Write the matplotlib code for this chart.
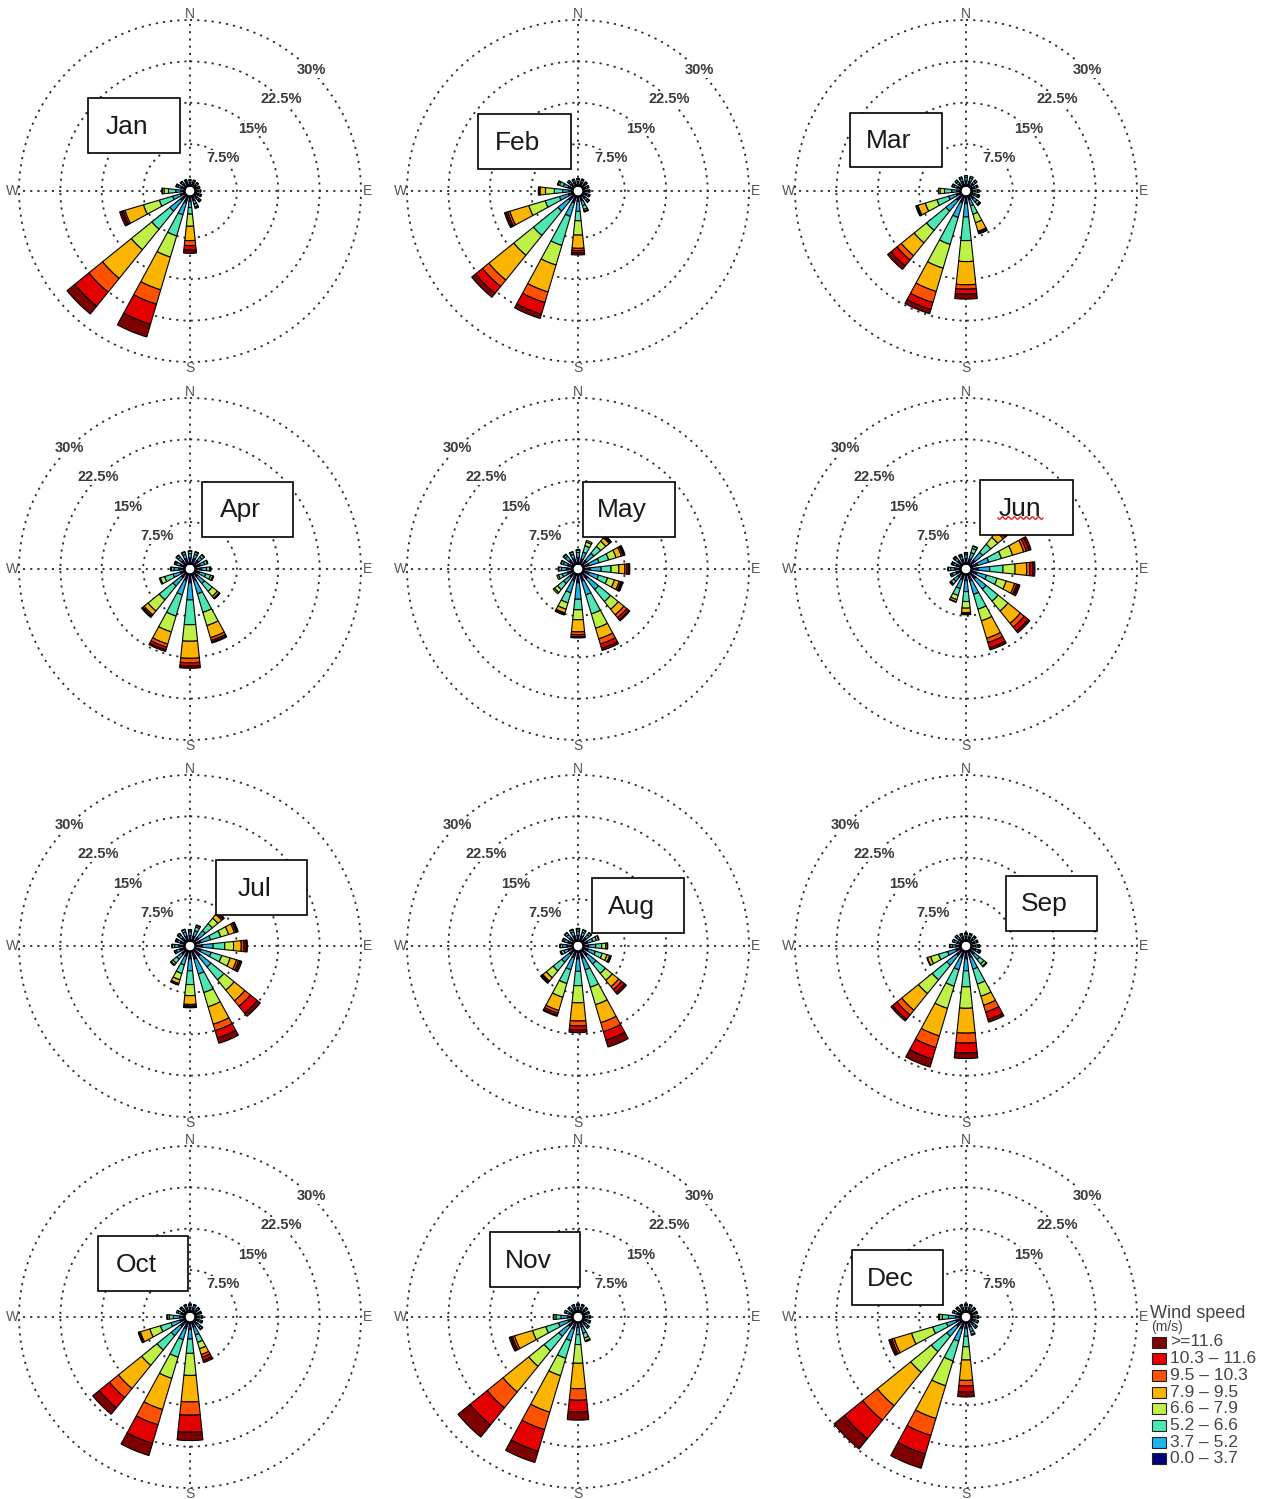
import numpy as np
import matplotlib
matplotlib.use("Agg")
import matplotlib.pyplot as plt
from matplotlib.patches import Rectangle
from matplotlib.lines import Line2D

plt.rcParams['font.family'] = ['Liberation Sans', 'DejaVu Sans']

# ---------------- data ----------------
MONTHS = ['Jan', 'Feb', 'Mar', 'Apr', 'May', 'Jun',
          'Jul', 'Aug', 'Sep', 'Oct', 'Nov', 'Dec']
DIRECTIONS_DEG = [0, 22.5, 45, 67.5, 90, 112.5, 135, 157.5,
                  180, 202.5, 225, 247.5, 270, 292.5, 315, 337.5]
SPEED_BINS = ['0.0 \u2013 3.7', '3.7 \u2013 5.2', '5.2 \u2013 6.6', '6.6 \u2013 7.9',
              '7.9 \u2013 9.5', '9.5 \u2013 10.3', '10.3 \u2013 11.6', '>=11.6']
RING_VALUES = [7.5, 15, 22.5, 30]
RING_LABELS = ['7.5%', '15%', '22.5%', '30%']
COMPASS = ['N', 'E', 'S', 'W']
COMPASS_DEG = [0, 90, 180, 270]

# frequency (%) per direction (rows N..NNW) and speed bin (cols low..high)
JAN = [
    [0.6, 0.4, 0.1, 0, 0, 0, 0, 0],
    [0.6, 0.4, 0.1, 0, 0, 0, 0, 0],
    [0.5, 0.4, 0.1, 0, 0, 0, 0, 0],
    [0.5, 0.3, 0.1, 0, 0, 0, 0, 0],
    [0.5, 0.4, 0.1, 0, 0, 0, 0, 0],
    [0.6, 0.4, 0.2, 0, 0, 0, 0, 0],
    [0.7, 0.5, 0.3, 0.1, 0, 0, 0, 0],
    [0.8, 0.7, 0.5, 0.2, 0.1, 0, 0, 0],
    [0.8, 1.2, 1.2, 2.2, 2.6, 0.9, 0.8, 0.6],
    [1.2, 2.3, 4.0, 4.0, 6.2, 2.7, 3.8, 2.4],
    [1.2, 2.5, 4.2, 4.8, 6.7, 3.2, 3.3, 1.8],
    [0.8, 1.5, 2.5, 3.0, 3.5, 0.3, 0.3, 0.4],
    [0.6, 1.0, 1.3, 0.8, 0.3, 0, 0, 0.1],
    [0.7, 0.6, 0.3, 0.1, 0, 0, 0, 0],
    [0.6, 0.5, 0.2, 0, 0, 0, 0, 0],
    [0.6, 0.4, 0.2, 0, 0, 0, 0, 0],
]
FEB = [
    [0.6, 0.5, 0.2, 0, 0, 0, 0, 0],
    [0.6, 0.5, 0.2, 0, 0, 0, 0, 0],
    [0.6, 0.4, 0.2, 0, 0, 0, 0, 0],
    [0.5, 0.4, 0.2, 0, 0, 0, 0, 0],
    [0.6, 0.4, 0.2, 0, 0, 0, 0, 0],
    [0.6, 0.5, 0.2, 0, 0, 0, 0, 0],
    [0.7, 0.6, 0.3, 0.1, 0, 0, 0, 0],
    [0.9, 0.9, 0.7, 0.3, 0.2, 0, 0, 0],
    [0.8, 1.9, 1.7, 2.6, 2.4, 0.4, 0.4, 0.4],
    [1.2, 2.6, 5.5, 3.7, 5.1, 2.0, 2.2, 0.8],
    [1.2, 2.5, 5.7, 4.6, 5.8, 1.5, 1.6, 0.9],
    [0.8, 1.7, 2.7, 3.1, 3.6, 0.4, 0.3, 0.3],
    [0.6, 1.2, 1.5, 1.6, 1.0, 0.2, 0, 0.1],
    [0.9, 0.9, 0.7, 0.3, 0.1, 0, 0, 0],
    [0.7, 0.5, 0.3, 0, 0, 0, 0, 0],
    [0.6, 0.5, 0.2, 0, 0, 0, 0, 0],
]
MAR = [
    [0.8, 0.7, 0.3, 0, 0, 0, 0, 0],
    [0.8, 0.7, 0.3, 0, 0, 0, 0, 0],
    [0.7, 0.6, 0.3, 0, 0, 0, 0, 0],
    [0.6, 0.5, 0.2, 0, 0, 0, 0, 0],
    [0.6, 0.5, 0.3, 0, 0, 0, 0, 0],
    [0.7, 0.5, 0.3, 0.1, 0, 0, 0, 0],
    [0.8, 0.8, 0.5, 0.2, 0.1, 0, 0, 0],
    [0.6, 1.2, 1.6, 1.6, 1.6, 0.2, 0.2, 0.1],
    [1.2, 2.5, 4.3, 3.8, 4.2, 0.8, 0.9, 0.9],
    [1.2, 2.8, 5.1, 4.5, 4.4, 2.1, 1.3, 0.8],
    [1.2, 2.5, 4.5, 2.9, 3.0, 1.0, 1.4, 0.8],
    [0.8, 1.5, 2.2, 2.2, 1.4, 0.2, 0.1, 0.1],
    [0.6, 1.0, 1.3, 0.8, 0.3, 0, 0, 0],
    [0.7, 0.6, 0.3, 0.1, 0, 0, 0, 0],
    [0.7, 0.6, 0.3, 0, 0, 0, 0, 0],
    [0.8, 0.6, 0.3, 0, 0, 0, 0, 0],
]
APR = [
    [1.0, 0.8, 0.4, 0.1, 0, 0, 0, 0],
    [1.0, 0.8, 0.4, 0.1, 0, 0, 0, 0],
    [1.0, 0.8, 0.5, 0.1, 0, 0, 0, 0],
    [1.0, 0.8, 0.5, 0.1, 0, 0, 0, 0],
    [1.1, 0.9, 0.6, 0.2, 0, 0, 0, 0],
    [0.8, 1.2, 0.9, 0.4, 0.2, 0, 0, 0],
    [0.8, 1.6, 1.8, 1.2, 0.4, 0.1, 0, 0.1],
    [1.2, 2.5, 3.5, 2.5, 2.3, 0.5, 0.3, 0.2],
    [1.5, 3.1, 4.5, 3.0, 3.1, 0.8, 0.6, 0.4],
    [1.2, 2.7, 4.0, 3.0, 2.3, 0.6, 0.5, 0.3],
    [1.0, 2.0, 3.2, 2.6, 0.9, 0.3, 0.2, 0.1],
    [0.8, 1.4, 1.6, 0.8, 0.2, 0, 0, 0],
    [1.0, 0.9, 0.5, 0.1, 0, 0, 0, 0],
    [0.9, 0.7, 0.3, 0.1, 0, 0, 0, 0],
    [1.0, 0.8, 0.4, 0.1, 0, 0, 0, 0],
    [1.0, 0.8, 0.4, 0.1, 0, 0, 0, 0],
]
MAY = [
    [1.1, 0.9, 0.4, 0.1, 0, 0, 0, 0],
    [0.9, 1.3, 1.2, 0.7, 0.3, 0, 0, 0],
    [1.0, 1.7, 1.6, 1.2, 0.8, 0.2, 0.2, 0.1],
    [1.1, 1.9, 1.8, 1.4, 1.0, 0.3, 0.2, 0.2],
    [1.2, 2.0, 1.8, 1.4, 1.1, 0.4, 0.3, 0.2],
    [1.1, 1.8, 1.7, 1.3, 0.9, 0.3, 0.2, 0.2],
    [1.3, 2.5, 2.8, 1.8, 1.3, 0.7, 0.5, 0.2],
    [1.3, 2.6, 3.6, 2.7, 2.0, 1.0, 0.8, 0.4],
    [1.5, 3.0, 1.9, 1.8, 2.2, 0.5, 0.4, 0.2],
    [1.2, 2.3, 1.9, 1.2, 0.7, 0.2, 0.1, 0.1],
    [0.9, 1.5, 1.4, 0.7, 0.3, 0, 0, 0],
    [1.0, 1.0, 0.7, 0.3, 0, 0, 0, 0],
    [1.1, 0.9, 0.5, 0.1, 0, 0, 0, 0],
    [1.0, 0.8, 0.4, 0.1, 0, 0, 0, 0],
    [1.1, 0.9, 0.4, 0.1, 0, 0, 0, 0],
    [1.0, 0.8, 0.4, 0.1, 0, 0, 0, 0],
]
JUN = [
    [0.9, 0.7, 0.3, 0.1, 0, 0, 0, 0],
    [0.9, 1.2, 0.8, 0.4, 0.1, 0, 0, 0],
    [1.1, 1.8, 1.9, 1.6, 1.3, 0.4, 0.3, 0.2],
    [1.2, 2.1, 2.4, 2.1, 2.1, 0.5, 0.5, 0.4],
    [1.2, 2.1, 2.4, 2.2, 2.1, 0.6, 0.5, 0.4],
    [1.1, 1.8, 2.0, 1.7, 1.6, 0.4, 0.3, 0.3],
    [1.3, 2.4, 2.8, 2.3, 2.9, 0.9, 0.9, 0.4],
    [1.3, 2.5, 2.8, 2.2, 3.3, 0.8, 1.0, 0.4],
    [1.1, 2.0, 1.8, 1.2, 0.8, 0.2, 0.1, 0.1],
    [1.0, 1.7, 1.3, 0.8, 0.4, 0.1, 0, 0],
    [0.9, 1.0, 0.6, 0.2, 0.1, 0, 0, 0],
    [0.9, 0.7, 0.3, 0.1, 0, 0, 0, 0],
    [1.0, 0.8, 0.4, 0.1, 0, 0, 0, 0],
    [0.8, 0.6, 0.3, 0.1, 0, 0, 0, 0],
    [0.9, 0.7, 0.3, 0.1, 0, 0, 0, 0],
    [0.8, 0.6, 0.3, 0.1, 0, 0, 0, 0],
]
JUL = [
    [0.9, 0.7, 0.3, 0.1, 0, 0, 0, 0],
    [0.9, 1.0, 0.7, 0.3, 0.1, 0, 0, 0],
    [1.0, 1.6, 1.6, 1.3, 0.9, 0.3, 0.2, 0.1],
    [1.1, 1.8, 1.9, 1.5, 1.1, 0.3, 0.2, 0.2],
    [1.2, 2.0, 2.1, 1.6, 1.4, 0.5, 0.4, 0.2],
    [1.1, 1.9, 2.0, 1.6, 1.2, 0.4, 0.3, 0.3],
    [1.4, 2.5, 3.0, 2.4, 2.5, 1.3, 1.6, 0.7],
    [1.5, 2.8, 3.5, 2.7, 3.3, 1.2, 1.4, 1.0],
    [1.3, 2.2, 2.5, 2.0, 1.6, 0.3, 0.2, 0.1],
    [1.0, 1.6, 1.6, 1.2, 0.7, 0.2, 0.1, 0],
    [0.9, 1.2, 0.9, 0.4, 0.2, 0, 0, 0],
    [0.9, 0.7, 0.3, 0.1, 0, 0, 0, 0],
    [1.0, 0.8, 0.4, 0.1, 0, 0, 0, 0],
    [0.8, 0.6, 0.3, 0.1, 0, 0, 0, 0],
    [0.9, 0.7, 0.3, 0.1, 0, 0, 0, 0],
    [0.9, 0.8, 0.4, 0.1, 0, 0, 0, 0],
]
AUG = [
    [0.9, 0.8, 0.4, 0.1, 0, 0, 0, 0],
    [0.9, 0.7, 0.4, 0.1, 0, 0, 0, 0],
    [0.9, 0.8, 0.4, 0.1, 0, 0, 0, 0],
    [0.8, 1.0, 0.7, 0.4, 0.1, 0, 0, 0],
    [0.9, 1.3, 1.1, 0.7, 0.3, 0.1, 0, 0],
    [0.9, 1.4, 1.3, 0.9, 0.5, 0.2, 0.1, 0],
    [1.2, 2.0, 2.2, 1.6, 1.5, 0.7, 0.7, 0.4],
    [1.3, 2.2, 3.3, 3.3, 3.4, 1.7, 1.6, 1.3],
    [1.3, 2.3, 2.6, 3.1, 3.3, 0.9, 0.7, 0.5],
    [1.2, 2.3, 2.6, 2.6, 2.5, 0.5, 0.4, 0.2],
    [1.0, 1.8, 2.0, 1.6, 0.8, 0.2, 0.2, 0.1],
    [0.9, 0.8, 0.5, 0.2, 0, 0, 0, 0],
    [1.0, 0.8, 0.4, 0.1, 0, 0, 0, 0],
    [0.9, 0.7, 0.3, 0.1, 0, 0, 0, 0],
    [0.9, 0.8, 0.4, 0.1, 0, 0, 0, 0],
    [0.9, 0.8, 0.4, 0.1, 0, 0, 0, 0],
]
SEP = [
    [0.7, 0.5, 0.2, 0, 0, 0, 0, 0],
    [0.7, 0.5, 0.2, 0, 0, 0, 0, 0],
    [0.7, 0.5, 0.2, 0, 0, 0, 0, 0],
    [0.6, 0.5, 0.2, 0, 0, 0, 0, 0],
    [0.7, 0.5, 0.3, 0, 0, 0, 0, 0],
    [0.8, 0.6, 0.3, 0.1, 0, 0, 0, 0],
    [0.9, 1.3, 1.0, 0.5, 0.2, 0, 0, 0],
    [1.2, 2.2, 2.8, 2.3, 1.7, 1.3, 1.4, 0.5],
    [1.3, 2.2, 2.9, 3.9, 4.5, 1.8, 1.8, 1.0],
    [1.2, 2.3, 3.1, 4.2, 5.2, 2.2, 2.2, 1.5],
    [1.2, 2.3, 3.4, 3.2, 3.9, 1.1, 1.0, 0.4],
    [0.9, 1.6, 1.7, 1.5, 0.6, 0.1, 0, 0],
    [0.8, 0.7, 0.4, 0.1, 0, 0, 0, 0],
    [0.7, 0.6, 0.3, 0, 0, 0, 0, 0],
    [0.7, 0.6, 0.3, 0, 0, 0, 0, 0],
    [0.7, 0.5, 0.2, 0, 0, 0, 0, 0],
]
OCT = [
    [0.7, 0.5, 0.2, 0, 0, 0, 0, 0],
    [0.7, 0.5, 0.2, 0, 0, 0, 0, 0],
    [0.6, 0.5, 0.2, 0, 0, 0, 0, 0],
    [0.6, 0.4, 0.2, 0, 0, 0, 0, 0],
    [0.6, 0.5, 0.2, 0, 0, 0, 0, 0],
    [0.7, 0.5, 0.2, 0, 0, 0, 0, 0],
    [0.8, 0.7, 0.4, 0.1, 0, 0, 0, 0],
    [0.9, 1.5, 1.4, 1.2, 1.1, 0.5, 0.6, 0.4],
    [1.2, 1.8, 2.6, 4.0, 4.8, 2.4, 3.1, 1.5],
    [1.2, 2.1, 3.3, 4.0, 5.9, 2.9, 3.5, 2.3],
    [1.2, 2.2, 3.3, 3.6, 5.4, 2.1, 2.4, 1.5],
    [0.9, 1.7, 2.0, 2.0, 1.8, 0.2, 0.1, 0.1],
    [0.9, 1.1, 0.8, 0.3, 0.1, 0, 0, 0],
    [0.7, 0.6, 0.3, 0, 0, 0, 0, 0],
    [0.7, 0.5, 0.2, 0, 0, 0, 0, 0],
    [0.7, 0.5, 0.2, 0, 0, 0, 0, 0],
]
NOV = [
    [0.7, 0.5, 0.2, 0, 0, 0, 0, 0],
    [0.7, 0.5, 0.2, 0, 0, 0, 0, 0],
    [0.6, 0.5, 0.2, 0, 0, 0, 0, 0],
    [0.6, 0.4, 0.2, 0, 0, 0, 0, 0],
    [0.6, 0.5, 0.2, 0, 0, 0, 0, 0],
    [0.7, 0.5, 0.2, 0, 0, 0, 0, 0],
    [0.8, 0.6, 0.3, 0, 0, 0, 0, 0],
    [0.9, 1.2, 0.9, 0.5, 0.2, 0, 0, 0],
    [0.9, 1.3, 1.8, 3.4, 4.6, 2.1, 2.1, 1.5],
    [1.2, 2.3, 3.3, 3.3, 6.9, 3.3, 4.1, 2.1],
    [1.2, 2.3, 3.4, 3.6, 6.0, 3.7, 4.0, 2.8],
    [0.9, 1.8, 2.4, 2.5, 3.4, 0.4, 0.3, 0.3],
    [0.9, 1.2, 0.9, 0.4, 0.1, 0, 0, 0],
    [0.7, 0.6, 0.3, 0, 0, 0, 0, 0],
    [0.7, 0.5, 0.2, 0, 0, 0, 0, 0],
    [0.7, 0.5, 0.2, 0, 0, 0, 0, 0],
]
DEC = [
    [0.7, 0.5, 0.2, 0, 0, 0, 0, 0],
    [0.7, 0.5, 0.2, 0, 0, 0, 0, 0],
    [0.6, 0.5, 0.2, 0, 0, 0, 0, 0],
    [0.6, 0.4, 0.2, 0, 0, 0, 0, 0],
    [0.6, 0.5, 0.2, 0, 0, 0, 0, 0],
    [0.7, 0.5, 0.2, 0, 0, 0, 0, 0],
    [0.8, 0.6, 0.3, 0, 0, 0, 0, 0],
    [0.9, 0.9, 0.5, 0.2, 0, 0, 0, 0],
    [1.0, 1.5, 1.9, 2.4, 3.7, 1.0, 1.1, 0.9],
    [1.2, 2.4, 3.7, 4.7, 6.2, 3.2, 3.5, 2.7],
    [1.2, 2.3, 3.6, 4.8, 7.8, 3.4, 4.3, 2.4],
    [0.9, 1.8, 2.6, 4.0, 3.3, 0.4, 0.3, 0.3],
    [0.9, 1.3, 1.1, 0.5, 0.2, 0, 0, 0],
    [0.7, 0.6, 0.3, 0, 0, 0, 0, 0],
    [0.7, 0.5, 0.2, 0, 0, 0, 0, 0],
    [0.7, 0.5, 0.2, 0, 0, 0, 0, 0],
]
MONTH_DATA = [JAN, FEB, MAR, APR, MAY, JUN, JUL, AUG, SEP, OCT, NOV, DEC]

# ---------------- style / layout ----------------
COLORS = ['#00007F', '#1CB4EC', '#4EE6B2', '#BEF046', '#FBB400',
          '#FF5200', '#E40000', '#7E0000']
W, H = 1276, 1499
CX = [190, 578, 966]
CY = [191, 569, 946, 1317]
RPX = 171
RING_LABEL_ANGLE = [45, 315, 315, 45]
BOXES = [(88, 98, 180, 153), (478, 114, 571, 169), (850, 113, 942, 167),
         (202, 482, 293, 537), (583, 482, 675, 537), (980, 480, 1073, 535),
         (216, 860, 307, 915), (592, 878, 684, 933), (1006, 876, 1097, 931),
         (98, 1236, 188, 1291), (490, 1232, 580, 1287), (852, 1250, 943, 1305)]
DOT = (0, (1.2, 2.8))

fig = plt.figure(figsize=(W / 100, H / 100), dpi=100)
fig.patch.set_facecolor('white')


def fx(x):
    return x / W


def fy(y):
    return 1 - y / H


theta = np.deg2rad(DIRECTIONS_DEG)
bar_width = np.deg2rad(12)

for i, (month, data) in enumerate(zip(MONTHS, MONTH_DATA)):
    row, col = divmod(i, 3)
    cx, cy = CX[col], CY[row]
    ax = fig.add_axes([fx(cx - RPX), fy(cy + RPX), 2 * RPX / W, 2 * RPX / H],
                      projection='polar')
    ax.set_theta_zero_location('N')
    ax.set_theta_direction(-1)
    ax.set_rorigin(-1.0)
    ax.set_ylim(0, 30)
    ax.set_yticks(RING_VALUES)
    ax.set_yticklabels([])
    ax.set_xticks(np.deg2rad(COMPASS_DEG))
    ax.set_xticklabels([])
    ax.tick_params(length=0)
    ax.set_axisbelow(True)
    ax.grid(True, color='#2a2a2a', linestyle=DOT, linewidth=1.3)
    for gl in ax.yaxis.get_gridlines():
        gl.set_clip_on(False)
    ax.spines['polar'].set_visible(False)
    ax.spines['inner'].set_linewidth(1.8)
    ax.spines['inner'].set_color('black')

    vals = np.array(data, dtype=float)
    bottoms = np.zeros(len(DIRECTIONS_DEG))
    for k in range(len(SPEED_BINS)):
        h = vals[:, k]
        m = h > 0
        ax.bar(theta[m], h[m], width=bar_width, bottom=bottoms[m],
               color=COLORS[k], edgecolor='black', linewidth=0.8, zorder=3)
        bottoms += h

    ang = np.deg2rad(RING_LABEL_ANGLE[row])
    for rv, rl in zip(RING_VALUES, RING_LABELS):
        ax.text(ang, rv, rl, ha='center', va='center', fontsize=10.5,
                fontweight='bold', color='#3a3a3a', zorder=4,
                bbox=dict(facecolor='white', edgecolor='none', pad=0.6))
    for lab, dg in zip(COMPASS, COMPASS_DEG):
        ax.text(np.deg2rad(dg), 31.1, lab, ha='center', va='center',
                fontsize=10, color='#555555')

    # month label box
    x0, y0, x1, y1 = BOXES[i]
    fig.add_artist(Rectangle((fx(x0), fy(y1)), (x1 - x0) / W, (y1 - y0) / H,
                             transform=fig.transFigure, facecolor='white',
                             edgecolor='black', linewidth=1.2, zorder=5))
    fig.text(fx((x0 + x1) / 2 - 7), fy((y0 + y1) / 2 + 8), month,
             ha='center', va='baseline', fontsize=19, color='#1a1a1a', zorder=6)

# spell-check style wavy underline under "Jun"
wx = np.linspace(998, 1043, 60)
wy = 518 + 1.3 * np.sin((wx - 998) / 6.0 * 2 * np.pi)
fig.add_artist(Line2D(fx(wx), fy(wy), transform=fig.transFigure,
                      color='#e02020', linewidth=1.0, zorder=7))

# ---------------- legend ----------------
fig.text(fx(1150), fy(1318), 'Wind speed', ha='left', va='baseline',
         fontsize=13, color='#444444')
fig.text(fx(1151), fy(1331), '(m/s)', ha='left', va='baseline',
         fontsize=10, color='#444444')
row_y = 1342
for k in reversed(range(len(SPEED_BINS))):
    fig.add_artist(Rectangle((fx(1152), fy(row_y + 5.5)), 14 / W, 11 / H,
                             transform=fig.transFigure, facecolor=COLORS[k],
                             edgecolor='#222222', linewidth=0.8))
    fig.text(fx(1170), fy(row_y), SPEED_BINS[k], ha='left', va='center',
             fontsize=12.5, color='#444444')
    row_y += 16.7

fig.savefig('out.png', dpi=100, facecolor='white')
